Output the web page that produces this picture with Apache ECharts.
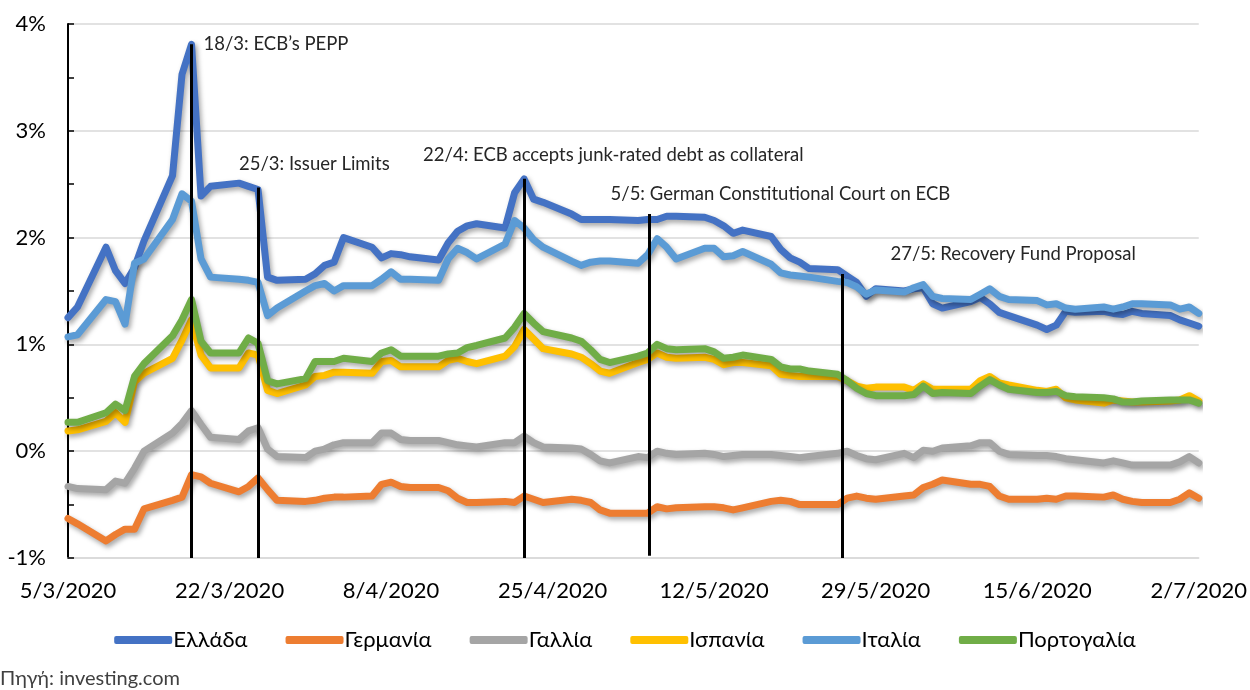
<!DOCTYPE html>
<html>
<head>
<meta charset="utf-8">
<script src="https://cdn.jsdelivr.net/npm/echarts@6/dist/echarts.min.js"></script>
<style>
  html, body { margin: 0; padding: 0; background: #fff; }
  #chart { width: 1250px; height: 690px; }
</style>
</head>
<body>
<div id="chart"></div>
<script>
// αποδόσεις 10ετών ομολόγων (%), εργάσιμες ημέρες 5/3/2020 - 2/7/2020
const startDate = '2020-03-05'
const dates = [
  '2020-03-05', '2020-03-06', '2020-03-09', '2020-03-10', '2020-03-11', '2020-03-12', '2020-03-13',
  '2020-03-16', '2020-03-17', '2020-03-18', '2020-03-19', '2020-03-20',
  '2020-03-23', '2020-03-24', '2020-03-25', '2020-03-26', '2020-03-27',
  '2020-03-30', '2020-03-31', '2020-04-01', '2020-04-02', '2020-04-03',
  '2020-04-06', '2020-04-07', '2020-04-08', '2020-04-09', '2020-04-10',
  '2020-04-13', '2020-04-14', '2020-04-15', '2020-04-16', '2020-04-17',
  '2020-04-20', '2020-04-21', '2020-04-22', '2020-04-23', '2020-04-24',
  '2020-04-27', '2020-04-28', '2020-04-29', '2020-04-30', '2020-05-01',
  '2020-05-04', '2020-05-05', '2020-05-06', '2020-05-07', '2020-05-08',
  '2020-05-11', '2020-05-12', '2020-05-13', '2020-05-14', '2020-05-15',
  '2020-05-18', '2020-05-19', '2020-05-20', '2020-05-21', '2020-05-22',
  '2020-05-25', '2020-05-26', '2020-05-27', '2020-05-28', '2020-05-29',
  '2020-06-01', '2020-06-02', '2020-06-03', '2020-06-04', '2020-06-05',
  '2020-06-08', '2020-06-09', '2020-06-10', '2020-06-11', '2020-06-12',
  '2020-06-15', '2020-06-16', '2020-06-17', '2020-06-18', '2020-06-19',
  '2020-06-22', '2020-06-23', '2020-06-24', '2020-06-25', '2020-06-26',
  '2020-06-29', '2020-06-30', '2020-07-01', '2020-07-02'
]
const xTickLabels = ['5/3/2020', '22/3/2020', '8/4/2020', '25/4/2020', '12/5/2020', '29/5/2020', '15/6/2020', '2/7/2020']

const greece = [
  1.25, 1.35, 1.91, 1.69, 1.57, 1.72, 1.97, 2.58, 3.53, 3.81, 2.39, 2.48,
  2.51, 2.48, 2.45, 1.63, 1.60, 1.61, 1.66, 1.74, 1.77, 2.00,
  1.91, 1.81, 1.85, 1.84, 1.82, 1.79, 1.95, 2.06, 2.11, 2.13,
  2.09, 2.42, 2.55, 2.36, 2.33, 2.22, 2.17, 2.17, 2.17, 2.17,
  2.16, 2.17, 2.17, 2.20, 2.20, 2.19, 2.16, 2.11, 2.04, 2.07,
  2.01, 1.89, 1.81, 1.77, 1.71, 1.70, 1.64, 1.58, 1.45, 1.52,
  1.50, 1.52, 1.53, 1.38, 1.34, 1.40, 1.44, 1.38, 1.30, 1.27,
  1.18, 1.14, 1.18, 1.31, 1.30, 1.31, 1.29, 1.28, 1.31, 1.29,
  1.27, 1.23, 1.20, 1.17
]
const germany = [
  -0.63, -0.68, -0.84, -0.78, -0.73, -0.73, -0.54, -0.46, -0.43, -0.22, -0.24, -0.30,
  -0.38, -0.33, -0.25, -0.36, -0.46, -0.47, -0.46, -0.44, -0.43, -0.43,
  -0.42, -0.31, -0.29, -0.33, -0.34, -0.34, -0.37, -0.44, -0.48, -0.48,
  -0.47, -0.48, -0.42, -0.45, -0.48, -0.45, -0.46, -0.48, -0.55, -0.58,
  -0.58, -0.58, -0.52, -0.54, -0.53, -0.52, -0.52, -0.53, -0.55, -0.53,
  -0.47, -0.46, -0.47, -0.50, -0.50, -0.50, -0.44, -0.42, -0.44, -0.45,
  -0.42, -0.41, -0.34, -0.31, -0.27, -0.31, -0.31, -0.33, -0.42, -0.45,
  -0.45, -0.44, -0.45, -0.42, -0.42, -0.43, -0.41, -0.45, -0.47, -0.48,
  -0.48, -0.45, -0.39, -0.44
]
const france = [
  -0.33, -0.35, -0.36, -0.28, -0.30, -0.16, 0.00, 0.17, 0.26, 0.38, 0.25, 0.13,
  0.11, 0.19, 0.22, 0.02, -0.05, -0.06, 0.00, 0.02, 0.06, 0.08,
  0.08, 0.17, 0.17, 0.11, 0.10, 0.10, 0.08, 0.06, 0.05, 0.04,
  0.08, 0.08, 0.14, 0.08, 0.04, 0.03, 0.02, -0.03, -0.09, -0.11,
  -0.05, -0.06, 0.00, -0.02, -0.03, -0.02, -0.03, -0.05, -0.04, -0.03,
  -0.03, -0.04, -0.05, -0.06, -0.05, -0.02, 0.00, -0.04, -0.07, -0.08,
  -0.02, -0.06, 0.01, 0.00, 0.03, 0.05, 0.08, 0.08, 0.00, -0.03,
  -0.04, -0.04, -0.05, -0.07, -0.08, -0.11, -0.09, -0.11, -0.13, -0.13,
  -0.13, -0.10, -0.05, -0.11
]
const spain = [
  0.19, 0.20, 0.28, 0.36, 0.27, 0.65, 0.73, 0.87, 1.04, 1.23, 0.90, 0.78,
  0.78, 0.92, 0.90, 0.57, 0.54, 0.62, 0.70, 0.71, 0.74, 0.74,
  0.73, 0.84, 0.85, 0.79, 0.79, 0.79, 0.85, 0.87, 0.84, 0.82,
  0.89, 0.98, 1.14, 1.05, 0.96, 0.91, 0.88, 0.82, 0.75, 0.73,
  0.83, 0.86, 0.92, 0.88, 0.87, 0.88, 0.86, 0.81, 0.83, 0.83,
  0.80, 0.72, 0.71, 0.70, 0.70, 0.70, 0.66, 0.61, 0.59, 0.60,
  0.60, 0.57, 0.63, 0.58, 0.58, 0.58, 0.66, 0.70, 0.64, 0.62,
  0.57, 0.56, 0.58, 0.50, 0.48, 0.45, 0.48, 0.47, 0.46, 0.46,
  0.47, 0.48, 0.52, 0.47
]
const italy = [
  1.07, 1.09, 1.42, 1.40, 1.19, 1.76, 1.80, 2.17, 2.41, 2.34, 1.80, 1.63,
  1.61, 1.60, 1.58, 1.27, 1.34, 1.50, 1.55, 1.57, 1.50, 1.55,
  1.55, 1.61, 1.68, 1.61, 1.61, 1.60, 1.80, 1.90, 1.86, 1.80,
  1.94, 2.16, 2.09, 1.98, 1.91, 1.78, 1.74, 1.77, 1.78, 1.78,
  1.76, 1.84, 1.99, 1.91, 1.80, 1.90, 1.90, 1.82, 1.83, 1.87,
  1.75, 1.67, 1.65, 1.64, 1.63, 1.59, 1.58, 1.54, 1.47, 1.51,
  1.49, 1.53, 1.56, 1.45, 1.43, 1.42, 1.47, 1.52, 1.45, 1.42,
  1.41, 1.37, 1.38, 1.34, 1.33, 1.35, 1.33, 1.35, 1.38, 1.38,
  1.37, 1.33, 1.35, 1.29
]
const portugal = [
  0.27, 0.27, 0.36, 0.44, 0.38, 0.70, 0.82, 1.08, 1.23, 1.42, 1.03, 0.92,
  0.92, 1.06, 1.01, 0.66, 0.63, 0.68, 0.84, 0.84, 0.84, 0.87,
  0.84, 0.92, 0.95, 0.89, 0.89, 0.89, 0.91, 0.92, 0.97, 0.99,
  1.06, 1.16, 1.29, 1.20, 1.12, 1.06, 1.03, 0.95, 0.86, 0.83,
  0.89, 0.92, 1.00, 0.96, 0.95, 0.96, 0.93, 0.87, 0.88, 0.90,
  0.86, 0.79, 0.77, 0.77, 0.75, 0.72, 0.66, 0.59, 0.54, 0.52,
  0.52, 0.53, 0.61, 0.54, 0.55, 0.54, 0.61, 0.67, 0.62, 0.58,
  0.55, 0.55, 0.56, 0.52, 0.51, 0.50, 0.49, 0.46, 0.46, 0.47,
  0.48, 0.48, 0.48, 0.45
]

const seriesNames = ['Ελλάδα', 'Γερμανία', 'Γαλλία', 'Ισπανία', 'Ιταλία', 'Πορτογαλία']
const seriesColors = ['#4472C4', '#ED7D31', '#A5A5A5', '#FFC000', '#5B9BD5', '#70AD47']
const seriesValues = [greece, germany, france, spain, italy, portugal]

// γεγονότα (ημέρες από 5/3, άκρα κάθετης γραμμής σε %)
const eventDays = [13, 20, 48, 61.2, 81.5]
const eventTops = [3.81, 2.47, 2.55, 2.22, 1.66]
const eventBottoms = [-1, -1, -1, -0.98, -1]
const eventLabels = [
  '18/3: ECB’s PEPP',
  '25/3: Issuer Limits',
  '22/4: ECB accepts junk-rated debt as collateral',
  '5/5: German Constitutional Court on ECB',
  '27/5: Recovery Fund Proposal'
]

const FONT = 'Lato, "Noto Sans", sans-serif'
const dayMs = 24 * 3600 * 1000
const t0 = Date.parse(startDate)
const dayIdx = dates.map(d => Math.round((Date.parse(d) - t0) / dayMs))

const series = seriesNames.map((name, i) => ({
  name: name,
  type: 'line',
  showSymbol: false,
  symbol: 'none',
  smooth: false,
  color: seriesColors[i],
  lineStyle: {
    width: 7,
    color: seriesColors[i],
    cap: 'round',
    join: 'round',
    shadowColor: 'rgba(0,0,0,0.35)',
    shadowBlur: 5,
    shadowOffsetX: 2,
    shadowOffsetY: 3
  },
  data: seriesValues[i].map((v, k) => [dayIdx[k], v])
}))

series.push({
  name: 'events',
  type: 'line',
  data: [],
  silent: true,
  markLine: {
    silent: true,
    symbol: ['none', 'none'],
    label: { show: false },
    lineStyle: { color: '#000', width: 3, type: 'solid' },
    data: eventDays.map((d, i) => [
      { coord: [d, eventTops[i]] },
      { coord: [d, eventBottoms[i]] }
    ])
  }
})

const option = {
  animation: false,
  backgroundColor: '#fff',
  textStyle: { fontFamily: FONT },
  title: {
    text: 'Πηγή: investing.com',
    left: 0,
    top: 669,
    padding: 0,
    textStyle: { fontFamily: FONT, fontSize: 20, fontWeight: 'normal', color: '#404040' }
  },
  legend: {
    data: seriesNames,
    left: 'center',
    top: 624,
    icon: 'roundRect',
    itemWidth: 58,
    itemHeight: 8,
    itemGap: 38,
    textStyle: { fontFamily: FONT, fontSize: 22, color: '#000', padding: [0, 0, 0, -4] }
  },
  grid: { left: 68, right: 48, top: 24, bottom: 132, containLabel: false },
  xAxis: {
    type: 'value',
    min: 0,
    max: 119,
    interval: 17,
    axisLine: { show: true, onZero: false, lineStyle: { color: '#d9d9d9', width: 1.5 } },
    axisTick: { show: false },
    splitLine: { show: false },
    axisLabel: {
      margin: 22,
      fontFamily: FONT,
      fontSize: 22,
      color: '#000',
      formatter: v => xTickLabels[Math.round(v / 17)]
    }
  },
  yAxis: {
    type: 'value',
    min: -1,
    max: 4,
    interval: 1,
    axisLine: { show: true, onZero: false, lineStyle: { color: '#000', width: 2 } },
    axisTick: { show: true, inside: true, length: 6, lineStyle: { color: '#000', width: 1.5 } },
    minorTick: { show: true, splitNumber: 2, length: 6, lineStyle: { color: '#000', width: 1.5 } },
    splitLine: { show: true, lineStyle: { color: '#d9d9d9', width: 1.5 } },
    axisLabel: {
      margin: 22,
      fontFamily: FONT,
      fontSize: 22,
      color: '#000',
      formatter: v => v + '%'
    }
  },
  series: series
}

const myChart = echarts.init(document.getElementById('chart'))
myChart.setOption(option)

// ετικέτες γεγονότων, τοποθετημένες σχετικά με την κορυφή κάθε γραμμής
const labelOffsets = [[12, 0], [-19, -23], [-101, -24], [-39, -20], [48, -20]]
const graphics = eventDays.map((d, i) => {
  const p = myChart.convertToPixel({ gridIndex: 0 }, [d, eventTops[i]])
  return {
    type: 'text',
    x: p[0] + labelOffsets[i][0],
    y: p[1] + labelOffsets[i][1],
    silent: true,
    style: {
      text: eventLabels[i],
      fontFamily: FONT,
      fontSize: 18.5,
      fill: '#262626',
      textAlign: 'left',
      textVerticalAlign: 'middle'
    }
  }
})
myChart.setOption({ graphic: graphics })
</script>
</body>
</html>
